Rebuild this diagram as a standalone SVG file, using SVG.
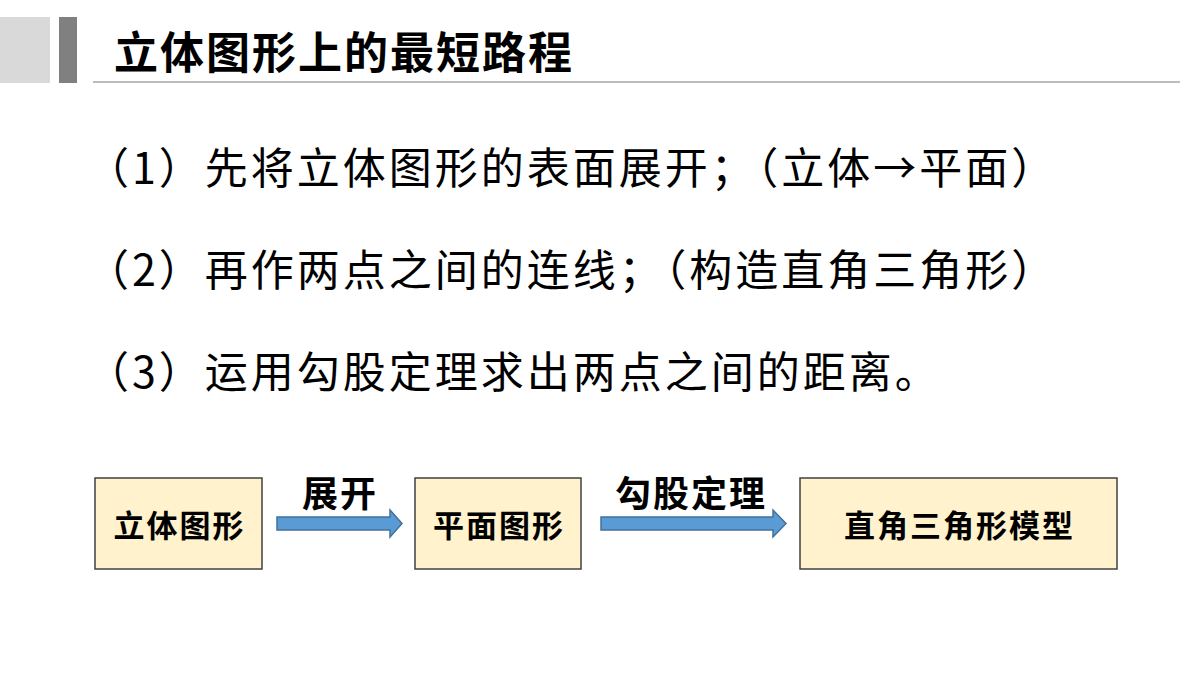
<svg xmlns="http://www.w3.org/2000/svg" width="1200" height="675" viewBox="0 0 1200 675">
<style>
.t{font-family:"Noto Sans CJK SC","Noto Sans",sans-serif;fill:#000}
.b{font-weight:bold}
.box{fill:#FFF2CC;stroke:#404040;stroke-width:1.5}
.arr{fill:#5B9BD5;stroke:#41719C;stroke-width:1.5}
</style>
<rect width="1200" height="675" fill="#fff"/>
<rect x="0" y="17" width="50" height="66" fill="#D9D9D9"/>
<rect x="59" y="17" width="18" height="66" fill="#808080"/>
<line x1="93" y1="82" x2="1180" y2="82" stroke="#A6A6A6" stroke-width="1.5"/>
<text class="t b" x="114" y="69" font-size="44" letter-spacing="2">立体图形上的最短路程</text>
<text class="t" x="86" y="184" font-size="43" letter-spacing="3">（1）先将立体图形的表面展开；（立体→平面）</text>
<text class="t" x="86" y="286" font-size="43" letter-spacing="3">（2）再作两点之间的连线；（构造直角三角形）</text>
<text class="t" x="86" y="388" font-size="43" letter-spacing="3">（3）运用勾股定理求出两点之间的距离。</text>
<g id="n1"><rect class="box" x="95" y="478" width="167" height="91"/><text class="t b" x="179.5" y="537" font-size="31" letter-spacing="2" text-anchor="middle">立体图形</text></g>
<g id="n2"><rect class="box" x="415" y="478" width="166" height="91"/><text class="t b" x="499" y="537" font-size="31" letter-spacing="2" text-anchor="middle">平面图形</text></g>
<g id="n3"><rect class="box" x="800" y="478" width="317" height="91"/><text class="t b" x="959.5" y="537" font-size="31" letter-spacing="2" text-anchor="middle">直角三角形模型</text></g>
<g id="connectors">
<path class="arr" d="M277 517H390V510L402 523.5L390 537V530H277Z"/>
<text class="t b" x="340" y="507" font-size="36" letter-spacing="2" text-anchor="middle">展开</text>
<path class="arr" d="M601 517H773V510L786 523.5L773 537V530H601Z"/>
<text class="t b" x="691" y="507" font-size="36" letter-spacing="2" text-anchor="middle">勾股定理</text>
</g>
</svg>
